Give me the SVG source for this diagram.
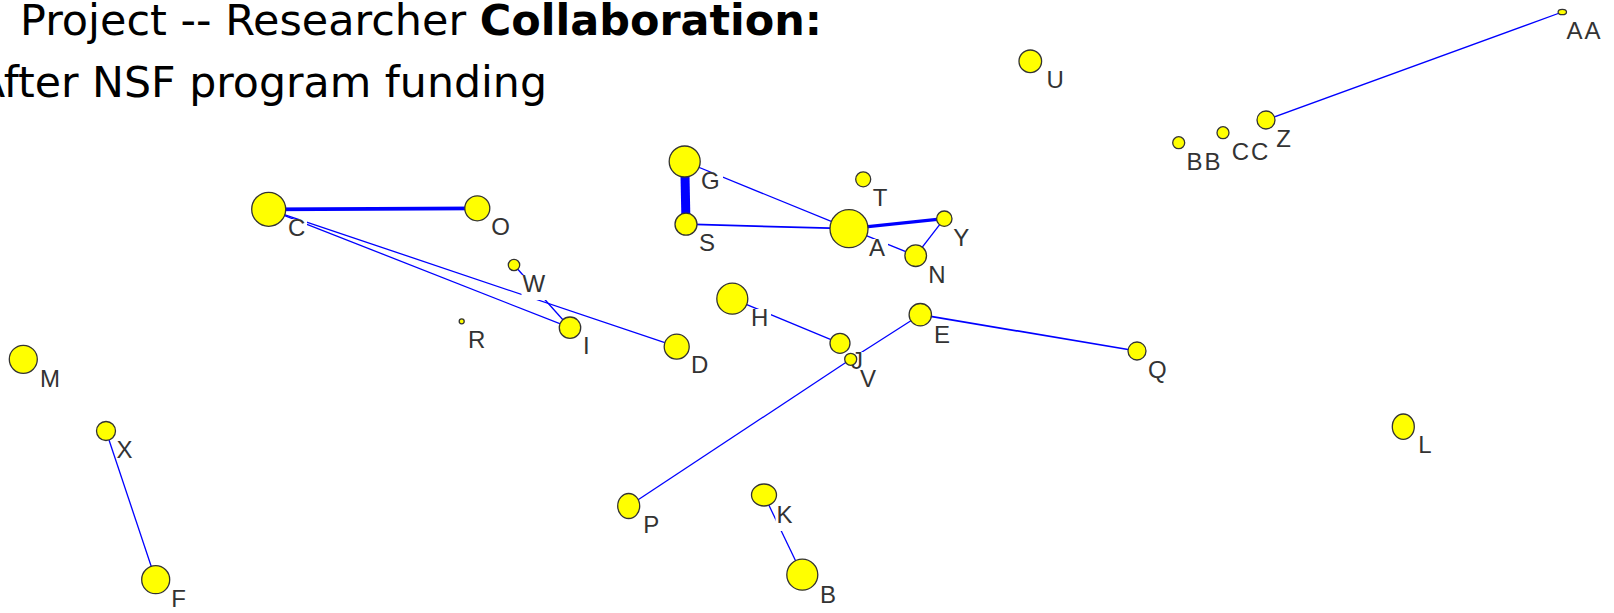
<svg xmlns="http://www.w3.org/2000/svg" width="1614" height="613" viewBox="0 0 1614 613">
  <style>
    .title { font-family: "DejaVu Sans", "Liberation Sans", sans-serif; font-size: 42px; fill: #000; }
    .title .b { font-weight: bold; }
    .edge { stroke: #0000ff; stroke-width: 1.3; fill: none; }
    .e2 { stroke-width: 1.7; }
    .e3 { stroke-width: 3.2; }
    .e4 { stroke-width: 3.8; }
    .e9 { stroke-width: 9; }
    .node circle, .node ellipse { fill: #ffff00; stroke: #333; stroke-width: 1.3; }
    .node rect { fill: #fff; }
    .node text { font-family: "Liberation Sans", Arial, sans-serif; font-size: 24px; fill: #333; }
    .node text.dbl { letter-spacing: 2px; }
  </style>

  <!-- heading -->
  <g id="title">
    <text class="title" x="20" y="35" textLength="802" lengthAdjust="spacingAndGlyphs">Project -- Researcher <tspan class="b">Collaboration:</tspan></text>
    <text class="title" x="-24" y="97" textLength="571" lengthAdjust="spacingAndGlyphs">After NSF program funding</text>
  </g>

  <!-- collaboration links -->
  <g id="edges">
    <line class="edge e4" x1="268.7" y1="209.3" x2="477.3" y2="208.3"/>
    <line class="edge" x1="268.7" y1="209.3" x2="570" y2="327.7"/>
    <line class="edge" x1="268.7" y1="209.3" x2="676.7" y2="346.7"/>
    <line class="edge" x1="514" y1="265" x2="570" y2="327.7"/>
    <line class="edge e9" x1="684.7" y1="161.5" x2="686" y2="224.2"/>
    <line class="edge" x1="684.7" y1="161.5" x2="849" y2="228.7"/>
    <line class="edge e2" x1="686" y1="224.2" x2="849" y2="228.7"/>
    <line class="edge e3" x1="849" y1="228.7" x2="944.3" y2="218.7"/>
    <line class="edge" x1="849" y1="228.7" x2="915.7" y2="255.7"/>
    <line class="edge" x1="944.3" y1="218.7" x2="915.7" y2="255.7"/>
    <line class="edge" x1="732.3" y1="298.7" x2="840" y2="343.3"/>
    <line class="edge" x1="628.7" y1="506" x2="850.7" y2="359.3"/>
    <line class="edge" x1="850.7" y1="359.3" x2="920.3" y2="314.7"/>
    <line class="edge e2" x1="920.3" y1="314.7" x2="1137" y2="351"/>
    <line class="edge" x1="1266" y1="120" x2="1562.3" y2="12"/>
    <line class="edge" x1="106" y1="431" x2="155.7" y2="579.7"/>
    <line class="edge" x1="764" y1="495" x2="802.3" y2="574.7"/>
  </g>

  <!-- researchers -->
  <g id="node-A" class="node"><circle cx="849" cy="228.7" r="19"/><rect x="868" y="239" width="20" height="25"/><text x="869" y="256">A</text></g>
  <g id="node-B" class="node"><circle cx="802.3" cy="574.7" r="15.5"/><rect x="819" y="586" width="20" height="25"/><text x="820" y="602.7">B</text></g>
  <g id="node-C" class="node"><circle cx="268.7" cy="209.3" r="17"/><rect x="287" y="219" width="20" height="25"/><text x="288" y="236">C</text></g>
  <g id="node-D" class="node"><circle cx="676.7" cy="346.7" r="12.5"/><rect x="690" y="356" width="21" height="25"/><text x="691" y="373">D</text></g>
  <g id="node-E" class="node"><circle cx="920.3" cy="314.7" r="11.2"/><rect x="933" y="326" width="20" height="25"/><text x="934" y="342.7">E</text></g>
  <g id="node-F" class="node"><circle cx="155.7" cy="579.7" r="14"/><rect x="170" y="590" width="19" height="23"/><text x="171.3" y="606.7">F</text></g>
  <g id="node-G" class="node"><circle cx="684.7" cy="161.5" r="15.5"/><rect x="700" y="172" width="23" height="25"/><text x="701" y="189">G</text></g>
  <g id="node-H" class="node"><circle cx="732.3" cy="298.7" r="15.5"/><rect x="750" y="309" width="21" height="25"/><text x="751" y="326">H</text></g>
  <g id="node-I" class="node"><circle cx="570" cy="327.7" r="10.7"/><rect x="582" y="337" width="10" height="25"/><text x="583" y="354">I</text></g>
  <g id="node-J" class="node"><circle cx="840" cy="343.3" r="10"/><rect x="850" y="352" width="14" height="24"/><text x="851" y="369">J</text></g>
  <g id="node-K" class="node"><ellipse cx="764" cy="495" rx="12.5" ry="11"/><rect x="775.5" y="506" width="20" height="25"/><text x="776.5" y="522.7">K</text></g>
  <g id="node-L" class="node"><ellipse cx="1403.3" cy="426.7" rx="11" ry="12.7"/><rect x="1417" y="436" width="18" height="25"/><text x="1418.3" y="453.3">L</text></g>
  <g id="node-M" class="node"><circle cx="23.3" cy="359.3" r="14"/><rect x="39" y="370" width="24" height="25"/><text x="40" y="386.7">M</text></g>
  <g id="node-N" class="node"><circle cx="915.7" cy="255.7" r="10.8"/><rect x="927" y="266" width="21" height="25"/><text x="928.3" y="282.7">N</text></g>
  <g id="node-O" class="node"><circle cx="477.3" cy="208.3" r="12.5"/><rect x="490" y="218" width="22" height="25"/><text x="491.3" y="235">O</text></g>
  <g id="node-P" class="node"><ellipse cx="628.7" cy="506" rx="11" ry="12.5"/><rect x="642" y="516" width="20" height="25"/><text x="643.2" y="533.3">P</text></g>
  <g id="node-Q" class="node"><circle cx="1137" cy="351" r="9"/><rect x="1147" y="361" width="23" height="25"/><text x="1148" y="378">Q</text></g>
  <g id="node-R" class="node"><circle cx="461.7" cy="321.3" r="2.5"/><rect x="467" y="331" width="21" height="25"/><text x="468" y="348.3">R</text></g>
  <g id="node-S" class="node"><circle cx="686" cy="224.2" r="11"/><rect x="698" y="234" width="20" height="25"/><text x="699" y="250.7">S</text></g>
  <g id="node-T" class="node"><circle cx="863.2" cy="179.3" r="7.5"/><rect x="872" y="189" width="19" height="25"/><text x="872.8" y="205.7">T</text></g>
  <g id="node-U" class="node"><circle cx="1030.3" cy="61.3" r="11.3"/><rect x="1045" y="71" width="21" height="25"/><text x="1046.5" y="88.3">U</text></g>
  <g id="node-V" class="node"><circle cx="850.7" cy="359.3" r="6"/><rect x="859" y="370" width="20" height="24"/><text x="860" y="386.7">V</text></g>
  <g id="node-W" class="node"><circle cx="514" cy="265" r="5.7"/><rect x="521.5" y="275" width="27" height="25"/><text x="522.5" y="291.7">W</text></g>
  <g id="node-X" class="node"><circle cx="106" cy="431" r="9.5"/><rect x="119" y="441" width="18" height="25"/><text x="116.5" y="458.3">X</text></g>
  <g id="node-Y" class="node"><circle cx="944.3" cy="218.7" r="7.7"/><rect x="952" y="229" width="19" height="25"/><text x="953.2" y="246">Y</text></g>
  <g id="node-Z" class="node"><circle cx="1266" cy="120" r="9"/><rect x="1275" y="130" width="19" height="25"/><text x="1276.2" y="147.3">Z</text></g>
  <g id="node-AA" class="node"><ellipse cx="1562.3" cy="12" rx="4.2" ry="2.7"/><rect x="1565" y="22" width="40" height="25"/><text class="dbl" x="1566.5" y="39.3">AA</text></g>
  <g id="node-BB" class="node"><circle cx="1178.7" cy="142.7" r="6"/><rect x="1186" y="153" width="38" height="25"/><text class="dbl" x="1186.6" y="170">BB</text></g>
  <g id="node-CC" class="node"><circle cx="1223" cy="132.7" r="6"/><rect x="1231" y="143" width="40" height="25"/><text class="dbl" x="1231.7" y="160">CC</text></g>
</svg>
